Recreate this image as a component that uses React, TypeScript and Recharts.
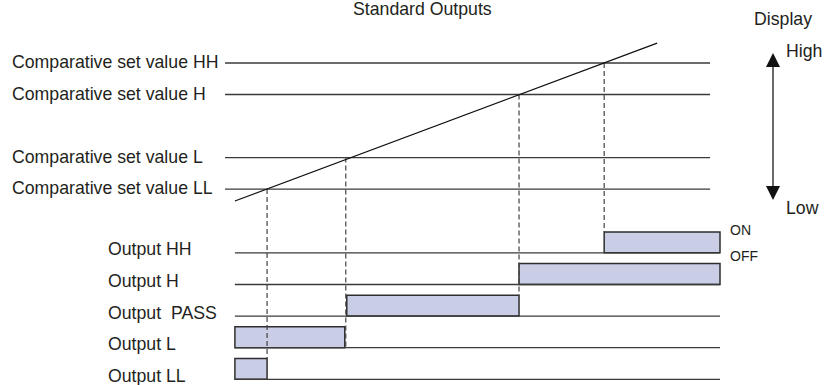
import React from "react";
import {
  ComposedChart,
  Line,
  XAxis,
  YAxis,
  ReferenceLine,
  ReferenceArea,
} from "recharts";

// comparative set values (display units)
const levelNames = ["HH", "H", "L", "LL"];
const levelValues = [50, 40, 20, 10];
const levelStart = 0;
const levelEnd = 98;

// display value ramp over time
const rampTimes = [2, 87.3];
const rampValues = [6.2, 56.3];

// time at which the ramp crosses each set value
const crossTimes = [76.6, 59.4, 24.4, 8.5];
// how far down (output row level) each dashed drop reaches
const dropRows = [4.66, 2.66, 1, 0.66];

// outputs: row index, ON from/to
const outputNames = ["HH", "H", " PASS", "L", "LL"];
const outputRows = [4, 3, 2, 1, 0];
const onStart = [76.6, 59.4, 24.6, 2, 2];
const onEnd = [100, 100, 59.4, 24.2, 8.5];
const outputFrom = 2;
const outputTo = 100;
const onHeight = 0.66;

const dispDomain = [-52.2, 70];
const rowDomain = [-0.18, 12];

const rowToDisp = (r: number) =>
  dispDomain[0] +
  ((r - rowDomain[0]) * (dispDomain[1] - dispDomain[0])) /
    (rowDomain[1] - rowDomain[0]);

const rampData = rampTimes.map((t, i) => ({ t, v: rampValues[i] }));

const font = "'Liberation Sans', Arial, Helvetica, sans-serif";
const fs = 17.7;
const ink = "#231f20";
const lineCol = "#3a3a3a";

export default function App() {
  return (
    <div style={{ position: "absolute", left: 0, top: 0, background: "#fff" }}>
      <ComposedChart
        width={829}
        height={385}
        data={rampData}
        margin={{ top: 0, right: 109, bottom: 0, left: 225 }}
      >
        <XAxis dataKey="t" type="number" domain={[0, 100]} hide allowDataOverflow />
        <YAxis yAxisId="disp" type="number" domain={dispDomain} hide allowDataOverflow />
        <YAxis yAxisId="row" type="number" domain={rowDomain} hide allowDataOverflow />

        {levelNames.map((n, i) => (
          <ReferenceLine
            key={"lv" + n}
            yAxisId="disp"
            segment={[
              { x: levelStart, y: levelValues[i] },
              { x: levelEnd, y: levelValues[i] },
            ]}
            stroke={lineCol}
            strokeWidth={1.3}
            label={(p: any) => (
              <text x={12} y={p.viewBox.y + 5} fontFamily={font} fontSize={fs} fill={ink}>
                {"Comparative set value " + n}
              </text>
            )}
          />
        ))}

        {crossTimes.map((t, i) => (
          <ReferenceLine
            key={"dr" + i}
            yAxisId="disp"
            segment={[
              { x: t, y: levelValues[i] },
              { x: t, y: rowToDisp(dropRows[i]) },
            ]}
            stroke="#444"
            strokeWidth={1.2}
            strokeDasharray="5 3"
          />
        ))}

        {outputNames.map((n, i) => (
          <ReferenceLine
            key={"ob" + i}
            yAxisId="row"
            segment={[
              { x: outputFrom, y: outputRows[i] },
              { x: outputTo, y: outputRows[i] },
            ]}
            stroke={lineCol}
            strokeWidth={1.3}
            label={(p: any) => (
              <text
                x={108}
                y={p.viewBox.y + 2.5}
                fontFamily={font}
                fontSize={fs}
                fill={ink}
                style={{ whiteSpace: "pre" }}
              >
                {"Output " + n}
              </text>
            )}
          />
        ))}

        {outputNames.map((n, i) => (
          <ReferenceArea
            key={"on" + i}
            yAxisId="row"
            x1={onStart[i]}
            x2={onEnd[i]}
            y1={outputRows[i]}
            y2={outputRows[i] + onHeight}
            fill="#c9cde6"
            fillOpacity={1}
            stroke="#2e2e2e"
            strokeWidth={1.5}
            label={
              i === 0
                ? (p: any) => (
                    <g fontFamily={font} fontSize={14} fill={ink}>
                      <text x={p.viewBox.x + p.viewBox.width + 10} y={p.viewBox.y + 3}>
                        ON
                      </text>
                      <text
                        x={p.viewBox.x + p.viewBox.width + 10}
                        y={p.viewBox.y + p.viewBox.height + 8}
                      >
                        OFF
                      </text>
                    </g>
                  )
                : undefined
            }
          />
        ))}

        <Line
          yAxisId="disp"
          dataKey="v"
          stroke="#111"
          strokeWidth={1.3}
          dot={false}
          isAnimationActive={false}
        />

        <g fontFamily={font} fontSize={fs} fill={ink}>
          <text x={353} y={15}>Standard Outputs</text>
          <text x={754} y={25}>Display</text>
          <text x={786} y={57}>High</text>
          <text x={786} y={214}>Low</text>
        </g>
        <g>
          <line x1={773} y1={64} x2={773} y2={189} stroke="#444" strokeWidth={1.6} />
          <polygon points="773,53 766,67 780,67" fill="#111" />
          <polygon points="773,200 766,186 780,186" fill="#111" />
        </g>
      </ComposedChart>
    </div>
  );
}
